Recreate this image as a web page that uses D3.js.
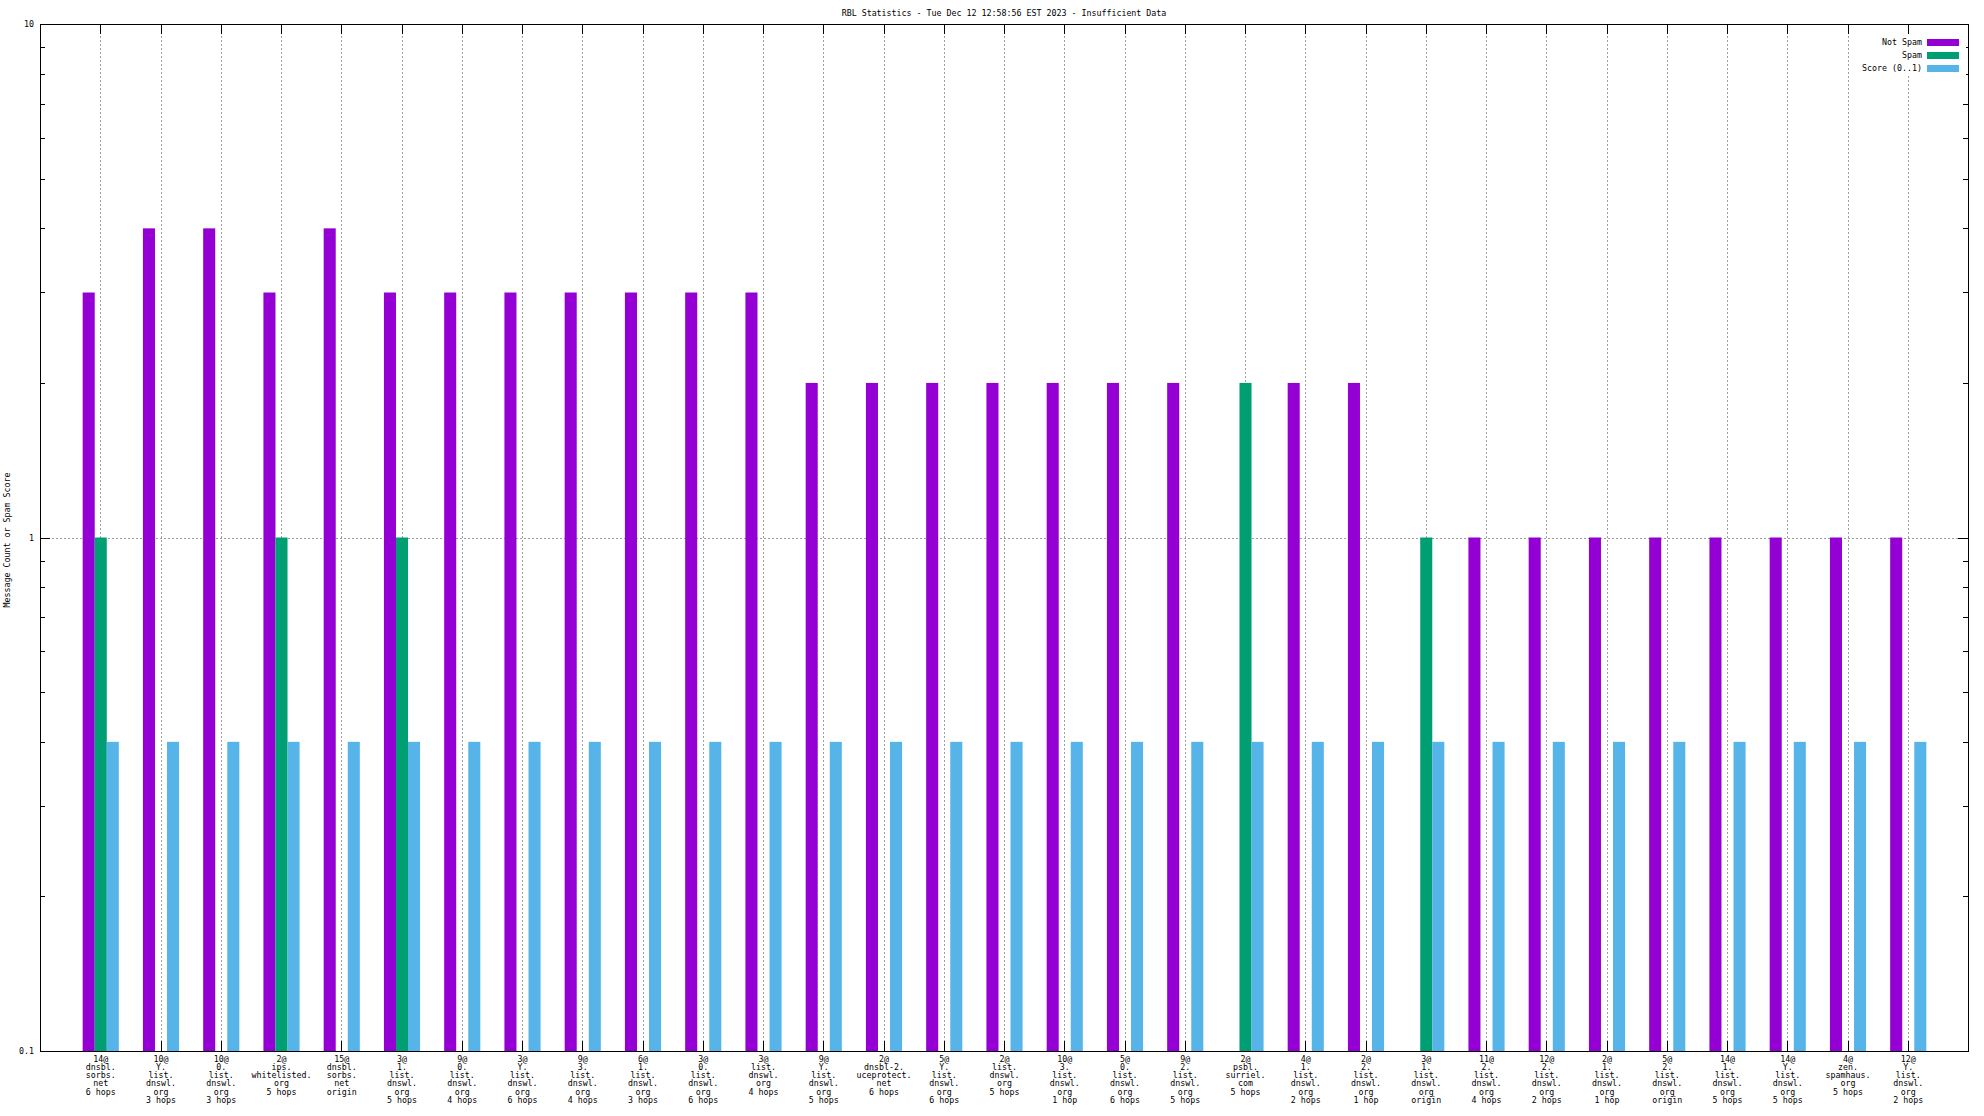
<!DOCTYPE html>
<html><head><meta charset="utf-8">
<script src="https://cdn.jsdelivr.net/npm/d3@7/dist/d3.min.js"></script>
<style>
html,body{margin:0;padding:0;background:#fff;}
svg{display:block;}
text{font-family:"DejaVu Sans Mono",monospace;font-size:8.3px;fill:#000;}
</style></head>
<body><svg id="c" width="1984" height="1116"></svg>
<script>
const title = "RBL Statistics - Tue Dec 12 12:58:56 EST 2023 - Insufficient Data";
const yLabel = "Message Count or Spam Score";
const categories = [
  ["14@","dnsbl.","sorbs.","net","6 hops"],
  ["10@","Y.","list.","dnswl.","org","3 hops"],
  ["10@","0.","list.","dnswl.","org","3 hops"],
  ["2@","ips.","whitelisted.","org","5 hops"],
  ["15@","dnsbl.","sorbs.","net","origin"],
  ["3@","1.","list.","dnswl.","org","5 hops"],
  ["9@","0.","list.","dnswl.","org","4 hops"],
  ["3@","Y.","list.","dnswl.","org","6 hops"],
  ["9@","3.","list.","dnswl.","org","4 hops"],
  ["6@","1.","list.","dnswl.","org","3 hops"],
  ["3@","0.","list.","dnswl.","org","6 hops"],
  ["3@","list.","dnswl.","org","4 hops"],
  ["9@","Y.","list.","dnswl.","org","5 hops"],
  ["2@","dnsbl-2.","uceprotect.","net","6 hops"],
  ["5@","Y.","list.","dnswl.","org","6 hops"],
  ["2@","list.","dnswl.","org","5 hops"],
  ["10@","3.","list.","dnswl.","org","1 hop"],
  ["5@","0.","list.","dnswl.","org","6 hops"],
  ["9@","2.","list.","dnswl.","org","5 hops"],
  ["2@","psbl.","surriel.","com","5 hops"],
  ["4@","1.","list.","dnswl.","org","2 hops"],
  ["2@","2.","list.","dnswl.","org","1 hop"],
  ["3@","1.","list.","dnswl.","org","origin"],
  ["11@","2.","list.","dnswl.","org","4 hops"],
  ["12@","2.","list.","dnswl.","org","2 hops"],
  ["2@","1.","list.","dnswl.","org","1 hop"],
  ["5@","2.","list.","dnswl.","org","origin"],
  ["14@","1.","list.","dnswl.","org","5 hops"],
  ["14@","Y.","list.","dnswl.","org","5 hops"],
  ["4@","zen.","spamhaus.","org","5 hops"],
  ["12@","Y.","list.","dnswl.","org","2 hops"]
];
const notSpam = [3,4,4,3,4,3,3,3,3,3,3,3,2,2,2,2,2,2,2,0,2,2,0,1,1,1,1,1,1,1,1];
const spam    = [1,0,0,1,0,1,0,0,0,0,0,0,0,0,0,0,0,0,0,2,0,0,1,0,0,0,0,0,0,0,0];
const score   = [0.4,0.4,0.4,0.4,0.4,0.4,0.4,0.4,0.4,0.4,0.4,0.4,0.4,0.4,0.4,0.4,0.4,0.4,0.4,0.4,0.4,0.4,0.4,0.4,0.4,0.4,0.4,0.4,0.4,0.4,0.4];
const seriesNames = ["Not Spam","Spam","Score (0..1)"];
const seriesColors = ["#9400d3","#009e73","#56b4e9"];
const yMajor = [0.1,1,10];
const yMinor = [0.2,0.3,0.4,0.5,0.6,0.7,0.8,0.9,2,3,4,5,6,7,8,9];

const svg = d3.select("#c");
const L=40, R=1968, T=24, B=1051;
const x = d3.scaleLinear().domain([-1, categories.length]).range([L, R]);
const y = d3.scaleLog().domain([0.1, 10]).range([B, T]);
const idx = d3.range(categories.length);
const cw = 0.2;
const offs = [-cw, 0, cw];
const px = v => Math.round(v) + 0.5;

// grid
const grid = svg.append("g").attr("stroke","#a0a0a0").attr("stroke-dasharray","2,2").attr("stroke-width",1);
idx.forEach(i => grid.append("line").attr("x1",px(x(i))).attr("x2",px(x(i))).attr("y1",T).attr("y2",B));
[1].forEach(v => grid.append("line").attr("x1",L).attr("x2",R).attr("y1",px(y(v))).attr("y2",px(y(v))));

// ticks
const tk = svg.append("g").attr("stroke","#000").attr("stroke-width",1);
idx.forEach(i => {
  tk.append("line").attr("x1",px(x(i))).attr("x2",px(x(i))).attr("y1",B).attr("y2",B-10);
  tk.append("line").attr("x1",px(x(i))).attr("x2",px(x(i))).attr("y1",T).attr("y2",T+10);
});
yMajor.forEach(v => {
  tk.append("line").attr("x1",L).attr("x2",L+10).attr("y1",px(y(v))).attr("y2",px(y(v)));
  tk.append("line").attr("x1",R).attr("x2",R-10).attr("y1",px(y(v))).attr("y2",px(y(v)));
});
yMinor.forEach(v => {
  tk.append("line").attr("x1",L).attr("x2",L+5).attr("y1",px(y(v))).attr("y2",px(y(v)));
  tk.append("line").attr("x1",R).attr("x2",R-5).attr("y1",px(y(v))).attr("y2",px(y(v)));
});

// bars
const series = [notSpam, spam, score];
series.forEach((vals, s) => {
  svg.append("g").selectAll("rect").data(idx.filter(i => vals[i] > 0)).join("rect")
    .attr("x", i => x(i + offs[s] - cw/2) + 0.5)
    .attr("width", i => x(i + offs[s] + cw/2) - x(i + offs[s] - cw/2))
    .attr("y", i => y(vals[i]))
    .attr("height", i => B - y(vals[i]))
    .attr("fill", seriesColors[s]);
});

// frame
svg.append("rect").attr("x",L+0.5).attr("y",T+0.5).attr("width",R-L).attr("height",B-T)
  .attr("fill","none").attr("stroke","#000").attr("stroke-width",1);

// y tick labels
const fmt = v => v < 1 ? "0.1" : String(v);
svg.append("g").selectAll("text").data(yMajor).join("text")
  .attr("x", 34).attr("y", v => y(v) + 3).attr("text-anchor","end").text(fmt);

// x labels
const xl = svg.append("g");
idx.forEach(i => {
  const t = xl.append("text").attr("text-anchor","middle").attr("x", x(i) + 0.5).attr("y", 1061.5);
  categories[i].forEach((ln, k) => t.append("tspan").attr("x", x(i) + 0.5).attr("y", 1061.5 + k*8.33).text(ln));
});

// title
svg.append("text").attr("x", (L+R)/2).attr("y", 16).attr("text-anchor","middle").text(title);
// y label
svg.append("text").attr("transform","translate(10,540) rotate(-90)").attr("text-anchor","middle").text(yLabel);

// legend
const lg = svg.append("g");
lg.append("rect").attr("x",1858).attr("y",35).attr("width",108).attr("height",41).attr("fill","#fff");
seriesNames.forEach((n, k) => {
  lg.append("text").attr("x",1922).attr("y",45 + k*13).attr("text-anchor","end").text(n);
  lg.append("rect").attr("x",1927).attr("y",39 + k*13).attr("width",32).attr("height",7).attr("fill",seriesColors[k]);
});
</script></body></html>
